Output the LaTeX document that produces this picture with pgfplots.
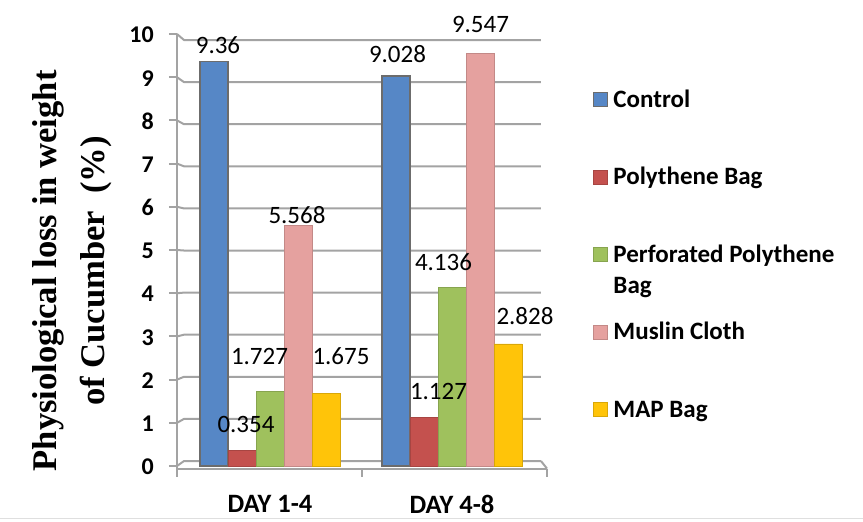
\documentclass[border=0pt]{standalone}
\usepackage{pgfplots}
\pgfplotsset{compat=1.18}
\usepackage{pgfplotstable}
\usepackage{fontspec}
\setmainfont{Carlito}
\newfontfamily\labelserif{Liberation Serif}

\definecolor{cControl}{HTML}{5687C6}
\definecolor{cPoly}{HTML}{C4514E}
\definecolor{cPerf}{HTML}{9FC15D}
\definecolor{cMuslin}{HTML}{E5A19F}
\definecolor{cMAP}{HTML}{FFC409}
\definecolor{gridc}{HTML}{A3A3A3}

% x: group index, y: loss (%), dx/dy: label offset from bar top (pt)
\pgfplotstableread{
x y dx dy
0 9.36 4 16.5
1 9.028 1.5 22
}\tblControl
\pgfplotstableread{
x y dx dy
0 0.354 4 26.7
1 1.127 14.5 25.8
}\tblPoly
\pgfplotstableread{
x y dx dy
0 1.727 -10.5 35.4
1 4.136 -8.5 25
}\tblPerf
\pgfplotstableread{
x y dx dy
0 5.568 -1 10.5
1 9.547 0.5 28.6
}\tblMuslin
\pgfplotstableread{
x y dx dy
0 1.675 15 37.6
1 2.828 17 27.3
}\tblMAP

\newcommand\legtext[1]{\raisebox{0pt}[17pt][5pt]{#1}}

\pgfplotsset{
  sqleg/.style={legend image code/.code={\draw[##1] (0pt,-7pt) rectangle (14pt,7pt);}},
  labelled/.style={
    visualization depends on={\thisrow{dx}\as\dx},
    visualization depends on={\thisrow{dy}\as\dy},
    every node near coord/.append style={xshift=\dx pt, yshift=\dy pt},
  },
}

\begin{document}
\begin{tikzpicture}
\useasboundingbox (0pt,0pt) rectangle (863pt,-522pt);
\draw[gray!25, line width=1pt] (0pt,-518pt) -- (863pt,-518pt);
\begin{axis}[
  at={(177pt,-468.6pt)}, anchor=south west,
  scale only axis, width=370pt, height=434.6pt,
  clip=false,
  ybar=0pt, bar width=28pt,
  xmin=-0.511, xmax=1.522,
  ymin=-0.06, ymax=10,
  axis x line*=bottom, axis y line*=left,
  axis line style={draw=gridc, line width=2pt, -},
  /pgf/number format/assume math mode=true,
  ytick={0,1,...,10},
  xtick={-0.511,0.505,1.522}, xticklabels={},
  extra x ticks={0,1}, extra x tick labels={DAY 1-4, DAY 4-8},
  extra x tick style={major tick length=0pt},
  tick align=outside, major tick length=8pt,
  tick style={draw=gridc, line width=2pt},
  yticklabel style={font=\fontsize{24pt}{28pt}\selectfont\bfseries, inner sep=0pt, xshift=-15pt, yshift=-1pt},
  xticklabel style={font=\fontsize{26.5pt}{30pt}\selectfont\bfseries, inner sep=0pt, yshift=-26pt},
  ylabel={Physiological loss in weight\\of Cucumber\ \ (\%)},
  ylabel style={at={(axis description cs:-0.284,0.455)}, anchor=center, rotate=0,
    align=center, font=\labelserif\fontsize{34.6pt}{48pt}\selectfont\bfseries},
  nodes near coords={\pgfmathprintnumber[fixed,precision=3]{\pgfplotspointmeta}},
  every node near coord/.append style={font=\fontsize{25pt}{29pt}\selectfont, anchor=center, text=black},
  legend cell align=left,
  legend style={draw=none, fill=none, inner sep=0pt, outer sep=0pt,
    at={(axis description cs:1.1243,0.871)}, anchor=north west,
    nodes={inner sep=0pt}, row sep=59pt,
    /tikz/every odd column/.style={column sep=5pt},
    font=\fontsize{25pt}{29pt}\selectfont\bfseries},
]
% back wall grid with its perspective connectors and the floor edge
\pgfplotsinvokeforeach{0,...,10}{
  \draw[gridc, line width=2pt] (axis cs:-0.511,#1)
    -- (axis cs:-0.4725,{0.1157+0.9745*#1})
    -- (axis cs:1.489,{0.1157+0.9745*#1});
}
\draw[gridc, line width=2pt] (axis cs:1.489,0.1157) -- (axis cs:1.522,-0.06);

\addplot[sqleg, labelled, fill=cControl, draw=gray!85!black, line width=1.5pt] table[x=x,y=y] {\tblControl};
\addlegendentry{\legtext{Control}}
\addplot[sqleg, labelled, fill=cPoly, draw=cPoly!85!black, line width=0.6pt] table[x=x,y=y] {\tblPoly};
\addlegendentry{\legtext{Polythene Bag}}
\addplot[sqleg, labelled, fill=cPerf, draw=cPerf!85!black, line width=0.6pt] table[x=x,y=y] {\tblPerf};
\addlegendentry{\legtext{\begin{tabular}[t]{@{}l@{}}Perforated Polythene\\[2pt]Bag\end{tabular}}}
\addplot[sqleg, labelled, fill=cMuslin, draw=cMuslin!85!black, line width=0.6pt] table[x=x,y=y] {\tblMuslin};
\addlegendentry{\legtext{Muslin Cloth}}
\addplot[sqleg, labelled, fill=cMAP, draw=cMAP!85!black, line width=0.6pt] table[x=x,y=y] {\tblMAP};
\addlegendentry{\legtext{MAP Bag}}
\end{axis}
\end{tikzpicture}
\end{document}
